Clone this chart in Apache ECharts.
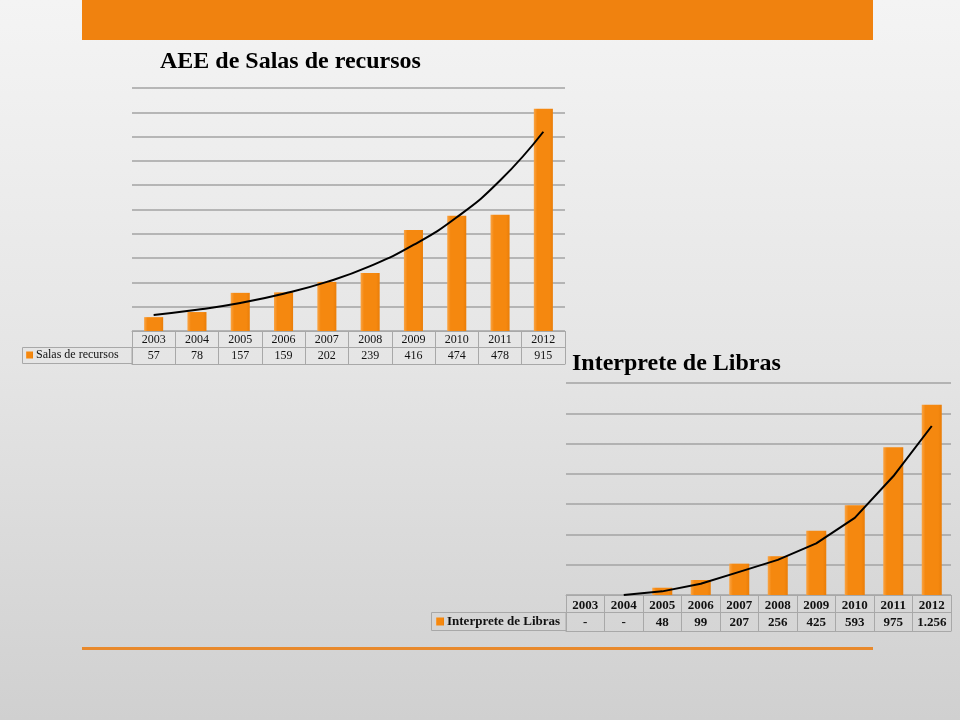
<!DOCTYPE html>
<html>
<head>
<meta charset="utf-8">
<script src="https://cdn.jsdelivr.net/npm/echarts@6/dist/echarts.min.js"></script>
<style>
html,body{margin:0;padding:0;}
#c{width:960px;height:720px;background:linear-gradient(180deg,#f4f4f4 0%,#e5e5e5 50%,#d0d0d0 100%);}
</style>
</head>
<body>
<div id="c"></div>
<script>
// ---- data ----
var years = ['2003','2004','2005','2006','2007','2008','2009','2010','2011','2012'];
var salasValues = [57, 78, 157, 159, 202, 239, 416, 474, 478, 915];
var salasLabels = ['57','78','157','159','202','239','416','474','478','915'];
var salasTrend = [66, 87, 115, 153, 202, 267, 354, 468, 619, 820];   // exponential trend line
var librasValues = [null, null, 48, 99, 207, 256, 425, 593, 975, 1256];
var librasLabels = ['-','-','48','99','207','256','425','593','975','1.256'];
var librasTrend = [null, 0, 24, 74, 153, 232, 341, 509, 784, 1116]; // moving-average trend
var salasMax = 1000, salasStep = 100;
var librasMax = 1400, librasStep = 200;

var SERIF = '"Liberation Serif","DejaVu Serif",serif';
var GRID_C = '#a3a3a3';
var BORDER_C = '#a8a8a8';
var barColor = {
  type:'linear', x:0, y:0, x2:1, y2:0,
  colorStops:[{offset:0,color:'#f9a445'},{offset:0.18,color:'#f5880f'},{offset:0.82,color:'#f5880f'},{offset:1,color:'#e97d08'}]
};

var chart = echarts.init(document.getElementById('c'), null, {renderer:'canvas'});

function xAxes(gridIndex, labels, opts) {
  return [
    { type:'category', gridIndex:gridIndex, data:years, position:'bottom',
      axisLine:{show:true, lineStyle:{color:BORDER_C, width:1}},
      axisTick:{show:true, interval:0, length:opts.h1, lineStyle:{color:BORDER_C}},
      axisLabel:{interval:0, margin:opts.m1, color:'#111', fontFamily:SERIF, fontSize:opts.fs, fontWeight:opts.fw},
      splitLine:{show:false} },
    { type:'category', gridIndex:gridIndex, data:labels, position:'bottom', offset:opts.h1,
      axisLine:{show:true, lineStyle:{color:BORDER_C, width:1}},
      axisTick:{show:true, interval:0, length:opts.h2, lineStyle:{color:BORDER_C}},
      axisLabel:{interval:0, margin:opts.m2, color:'#111', fontFamily:SERIF, fontSize:opts.fs, fontWeight:opts.fw},
      splitLine:{show:false} },
    { type:'category', gridIndex:gridIndex, data:years, position:'bottom', offset:opts.h1+opts.h2,
      axisLine:{show:true, lineStyle:{color:BORDER_C, width:1}},
      axisTick:{show:false}, axisLabel:{show:false}, splitLine:{show:false} }
  ];
}

var xa = [].concat(
  xAxes(0, salasLabels, {h1:16, h2:17, m1:3, m2:3, fs:12, fw:'normal'}),
  xAxes(1, librasLabels, {h1:17, h2:19, m1:4, m2:4, fs:13, fw:'bold'})
);

var option = {
  animation:false,
  backgroundColor:'transparent',
  title:[
    {text:'AEE de Salas de recursos', left:160, top:50, padding:0,
     textStyle:{fontFamily:SERIF, fontSize:24, fontWeight:'bold', color:'#000'}},
    {text:'Interprete de Libras', left:572, top:352, padding:0,
     textStyle:{fontFamily:SERIF, fontSize:24, fontWeight:'bold', color:'#000'}}
  ],
  legend:[
    {data:['Salas de recursos'], left:26, top:349, icon:'rect', itemWidth:7, itemHeight:7, itemGap:0,
     selectedMode:false, padding:0, textStyle:{fontFamily:SERIF, fontSize:12, color:'#111', padding:[0,0,0,-2]}},
    {data:['Interprete de Libras'], left:436, top:615, icon:'rect', itemWidth:8, itemHeight:8, itemGap:0,
     selectedMode:false, padding:0, textStyle:{fontFamily:SERIF, fontSize:13, fontWeight:'bold', color:'#111', padding:[0,0,0,-2]}}
  ],
  grid:[
    {left:132, top:88, width:433, height:243},
    {left:566, top:383, width:385, height:212}
  ],
  xAxis: xa,
  yAxis:[
    {type:'value', gridIndex:0, min:0, max:salasMax, interval:salasStep,
     axisLine:{show:false}, axisTick:{show:false}, axisLabel:{show:false},
     splitLine:{show:true, lineStyle:{color:GRID_C, width:1.6}}},
    {type:'value', gridIndex:1, min:0, max:librasMax, interval:librasStep,
     axisLine:{show:false}, axisTick:{show:false}, axisLabel:{show:false},
     splitLine:{show:true, lineStyle:{color:GRID_C, width:1.6}}}
  ],
  series:[
    {name:'Salas de recursos', type:'bar', xAxisIndex:0, yAxisIndex:0, data:salasValues,
     barWidth:'44%', itemStyle:{color:barColor}},
    {name:'trend1', type:'line', xAxisIndex:0, yAxisIndex:0, data:salasTrend, smooth:0.5,
     symbol:'none', lineStyle:{color:'#000', width:2}, z:5},
    {name:'Interprete de Libras', type:'bar', xAxisIndex:3, yAxisIndex:1, data:librasValues,
     barWidth:'52%', itemStyle:{color:barColor}},
    {name:'trend2', type:'line', xAxisIndex:3, yAxisIndex:1, data:librasTrend, smooth:false,
     symbol:'none', lineStyle:{color:'#000', width:2}, z:5}
  ],
  graphic:[
    {type:'rect', shape:{x:82, y:0, width:791, height:40}, style:{fill:'#f0820f'}, silent:true},
    {type:'rect', shape:{x:82, y:647, width:791, height:3}, style:{fill:'#e8892c'}, silent:true},
    {type:'rect', shape:{x:22.5, y:347.5, width:109.5, height:16}, style:{fill:'none', stroke:BORDER_C, lineWidth:1}, silent:true},
    {type:'rect', shape:{x:431.5, y:612.5, width:134.5, height:18}, style:{fill:'none', stroke:BORDER_C, lineWidth:1}, silent:true}
  ]
};
chart.setOption(option);
</script>
</body>
</html>
